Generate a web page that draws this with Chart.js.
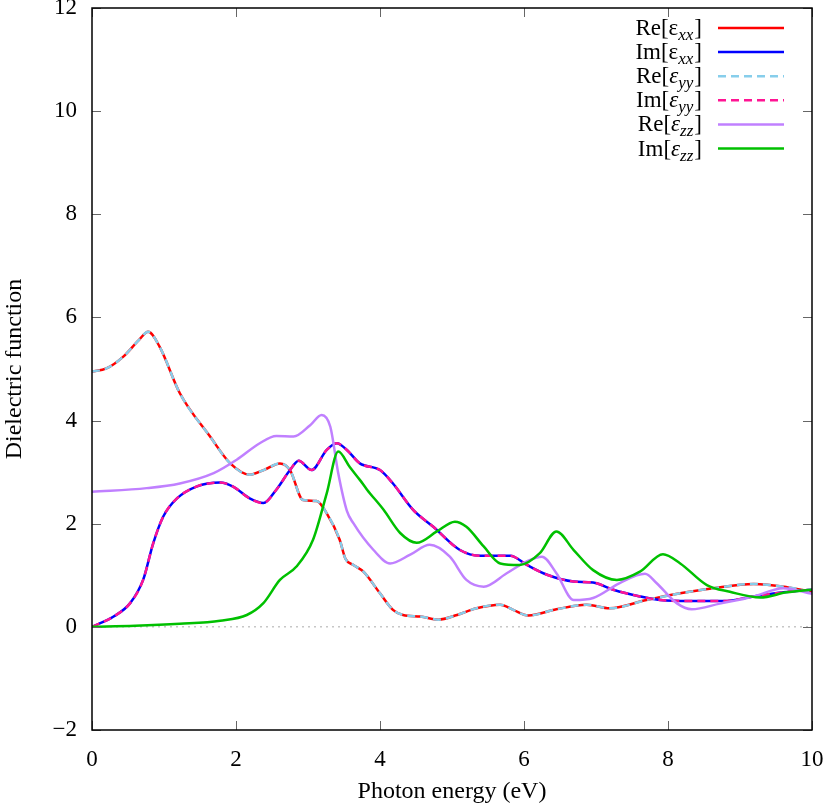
<!DOCTYPE html>
<html>
<head>
<meta charset="utf-8">
<script src="https://cdn.jsdelivr.net/npm/chart.js@4/dist/chart.umd.min.js"></script>
<style>
  body { margin: 0; background: #fff; }
  #wrap { width: 830px; height: 806px; }
</style>
</head>
<body>
<div id="wrap"><canvas id="dielChart" width="830" height="806"></canvas></div>
<script>
// Photon energy (eV) sample points and dielectric function values
const reXX_E = [0, 0.2, 0.435, 0.65, 0.78, 0.94, 1.22, 1.64, 1.92, 2.19, 2.4, 2.61, 2.75, 2.93, 3.12, 3.26, 3.44, 3.52, 3.63, 3.77, 4.0, 4.18, 4.32, 4.56, 4.81, 5.07, 5.34, 5.67, 5.85, 6.06, 6.45, 6.87, 7.19, 7.7, 8.17, 8.63, 9.19, 9.65, 10];
const reXX_V = [4.95, 5.01, 5.24, 5.56, 5.72, 5.43, 4.53, 3.69, 3.17, 2.95, 3.05, 3.17, 3.04, 2.46, 2.44, 2.2, 1.69, 1.32, 1.2, 1.07, 0.65, 0.33, 0.23, 0.2, 0.14, 0.23, 0.36, 0.43, 0.33, 0.22, 0.34, 0.43, 0.36, 0.52, 0.65, 0.75, 0.83, 0.77, 0.68];

const imXX_E = [0, 0.3, 0.53, 0.71, 0.85, 0.99, 1.18, 1.45, 1.78, 1.96, 2.19, 2.38, 2.56, 2.75, 2.87, 3.05, 3.26, 3.4, 3.54, 3.72, 4.0, 4.18, 4.46, 4.74, 5.11, 5.39, 5.81, 6.04, 6.32, 6.69, 6.96, 7.24, 7.61, 7.89, 8.31, 8.77, 9.19, 9.6, 10];
const imXX_V = [0, 0.2, 0.46, 0.91, 1.62, 2.14, 2.49, 2.72, 2.8, 2.72, 2.49, 2.4, 2.66, 3.04, 3.22, 3.04, 3.43, 3.56, 3.43, 3.17, 3.04, 2.78, 2.27, 1.94, 1.49, 1.38, 1.38, 1.2, 1.01, 0.88, 0.86, 0.72, 0.59, 0.52, 0.5, 0.5, 0.59, 0.67, 0.72];

// yy components overlap the xx ones exactly
const reYY_E = reXX_E, reYY_V = reXX_V;
const imYY_E = imXX_E, imYY_V = imXX_V;

const reZZ_E = [0, 0.76, 1.22, 1.69, 2.01, 2.33, 2.56, 2.8, 3.03, 3.19, 3.31, 3.42, 3.54, 3.63, 3.91, 4.14, 4.42, 4.69, 4.97, 5.2, 5.44, 5.76, 6.04, 6.25, 6.45, 6.69, 6.96, 7.33, 7.68, 7.84, 8.12, 8.33, 8.72, 9.19, 9.6, 10];
const reZZ_V = [2.62, 2.69, 2.78, 2.98, 3.24, 3.56, 3.7, 3.69, 3.91, 4.11, 3.88, 2.98, 2.25, 2.01, 1.49, 1.23, 1.4, 1.59, 1.36, 0.91, 0.78, 1.04, 1.27, 1.36, 1.04, 0.52, 0.56, 0.85, 1.03, 0.85, 0.46, 0.34, 0.45, 0.59, 0.75, 0.64];

const imZZ_E = [0, 0.6, 1.22, 1.78, 2.15, 2.38, 2.61, 2.84, 3.07, 3.26, 3.42, 3.58, 3.72, 3.82, 4.05, 4.28, 4.51, 4.79, 5.04, 5.2, 5.44, 5.67, 5.94, 6.22, 6.45, 6.69, 6.96, 7.29, 7.61, 7.93, 8.17, 8.54, 8.86, 9.28, 9.65, 10];
const imZZ_V = [0, 0.02, 0.06, 0.12, 0.23, 0.46, 0.91, 1.17, 1.69, 2.59, 3.4, 3.1, 2.85, 2.66, 2.27, 1.82, 1.63, 1.85, 2.04, 1.94, 1.56, 1.23, 1.2, 1.43, 1.85, 1.49, 1.1, 0.91, 1.07, 1.41, 1.23, 0.81, 0.68, 0.57, 0.67, 0.72];

const xTicks = [0, 2, 4, 6, 8, 10];
const yTicks = [-2, 0, 2, 4, 6, 8, 10, 12];

const FONT = '"Liberation Serif", "DejaVu Serif", serif';

function pts(xs, ys) {
    return xs.map((x, i) => ({ x: x, y: ys[i] }));
}

// legend entries: prefix, epsilon italic?, subscript, colour, dash
const legendItems = [
    { pre: 'Re[', epsItalic: false, sub: 'xx', color: '#ff0000', dash: [] },
    { pre: 'Im[', epsItalic: false, sub: 'xx', color: '#0000ff', dash: [] },
    { pre: 'Re[', epsItalic: true, sub: 'yy', color: '#87ceeb', dash: [8, 5] },
    { pre: 'Im[', epsItalic: true, sub: 'yy', color: '#ff1493', dash: [8, 5] },
    { pre: 'Re[', epsItalic: true, sub: 'zz', color: '#c080ff', dash: [] },
    { pre: 'Im[', epsItalic: true, sub: 'zz', color: '#00c000', dash: [] }
];

function makeSet(label, xs, ys, item, order) {
    return {
        label: label,
        data: pts(xs, ys),
        borderColor: item.color,
        borderWidth: 2.5,
        borderDash: item.dash,
        pointRadius: 0,
        fill: false,
        cubicInterpolationMode: 'monotone',
        order: order
    };
}

// axes frame, inward ticks and the dotted zero line
const framePlugin = {
    id: 'frame',
    beforeDatasetsDraw(chart) {
        const ctx = chart.ctx, a = chart.chartArea, ys = chart.scales.y;
        const y0 = ys.getPixelForValue(0);
        ctx.save();
        ctx.strokeStyle = '#aaaaaa';
        ctx.lineWidth = 1;
        ctx.setLineDash([2, 4]);
        ctx.beginPath();
        ctx.moveTo(a.left, y0);
        ctx.lineTo(a.right, y0);
        ctx.stroke();
        ctx.restore();
    },
    afterDatasetsDraw(chart) {
        const ctx = chart.ctx, a = chart.chartArea;
        const xs = chart.scales.x, ys = chart.scales.y;
        ctx.save();
        ctx.strokeStyle = '#666666';
        ctx.lineWidth = 1;
        ctx.beginPath();
        xTicks.forEach(v => {
            const px = Math.round(xs.getPixelForValue(v)) + 0.5;
            ctx.moveTo(px, a.bottom); ctx.lineTo(px, a.bottom - 9);
            ctx.moveTo(px, a.top); ctx.lineTo(px, a.top + 9);
        });
        yTicks.forEach(v => {
            const py = Math.round(ys.getPixelForValue(v)) + 0.5;
            ctx.moveTo(a.left, py); ctx.lineTo(a.left + 9, py);
            ctx.moveTo(a.right, py); ctx.lineTo(a.right - 9, py);
        });
        ctx.stroke();
        ctx.strokeStyle = '#000000';
        ctx.lineWidth = 1.5;
        ctx.strokeRect(a.left, a.top, a.right - a.left, a.bottom - a.top);
        ctx.restore();
    },
    afterDraw(chart) {
        const ctx = chart.ctx;
        const textRight = 702, lineL = 718, lineR = 784;
        ctx.save();
        ctx.textBaseline = 'alphabetic';
        legendItems.forEach((it, i) => {
            const yMid = 28 + i * 24.1;
            const base = yMid + 7;
            const fMain = '23px ' + FONT;
            const fEps = (it.epsItalic ? 'italic ' : '') + '23px ' + FONT;
            const fSub = 'italic 17px ' + FONT;
            ctx.font = fMain; const w1 = ctx.measureText(it.pre).width;
            ctx.font = fEps; const w2 = ctx.measureText('ε').width;
            ctx.font = fSub; const w3 = ctx.measureText(it.sub).width;
            ctx.font = fMain; const w4 = ctx.measureText(']').width;
            let x = textRight - (w1 + w2 + w3 + w4 + 1);
            ctx.fillStyle = '#000';
            ctx.font = fMain; ctx.fillText(it.pre, x, base); x += w1;
            ctx.font = fEps; ctx.fillText('ε', x, base); x += w2;
            ctx.font = fSub; ctx.fillText(it.sub, x, base + 5); x += w3 + 1;
            ctx.font = fMain; ctx.fillText(']', x, base);
            ctx.strokeStyle = it.color;
            ctx.lineWidth = 2.5;
            ctx.setLineDash(it.dash);
            ctx.beginPath();
            ctx.moveTo(lineL, yMid);
            ctx.lineTo(lineR, yMid);
            ctx.stroke();
            ctx.setLineDash([]);
        });
        ctx.restore();
    }
};

function fmt(v) {
    return v < 0 ? '\u2212' + Math.abs(v) : String(v);
}

const ctx = document.getElementById('dielChart').getContext('2d');
new Chart(ctx, {
    type: 'line',
    data: {
        datasets: [
            makeSet('Re[εxx]', reXX_E, reXX_V, legendItems[0], 6),
            makeSet('Im[εxx]', imXX_E, imXX_V, legendItems[1], 5),
            makeSet('Re[εyy]', reYY_E, reYY_V, legendItems[2], 4),
            makeSet('Im[εyy]', imYY_E, imYY_V, legendItems[3], 3),
            makeSet('Re[εzz]', reZZ_E, reZZ_V, legendItems[4], 2),
            makeSet('Im[εzz]', imZZ_E, imZZ_V, legendItems[5], 1)
        ]
    },
    options: {
        responsive: false,
        animation: false,
        layout: { padding: { top: 8, right: 18, left: 0, bottom: 0 } },
        plugins: {
            legend: { display: false },
            tooltip: { enabled: false }
        },
        scales: {
            x: {
                type: 'linear',
                min: 0,
                max: 10,
                afterFit: s => { s.height = 76; s.paddingLeft = 0; s.paddingRight = 0; },
                afterBuildTicks: s => { s.ticks = xTicks.map(v => ({ value: v })); },
                grid: { display: false, drawTicks: false },
                border: { display: false },
                ticks: { color: '#000', font: { family: FONT, size: 23 }, padding: 16, maxRotation: 0, callback: fmt },
                title: { display: true, text: 'Photon energy (eV)', color: '#000', font: { family: FONT, size: 24 }, padding: { top: 0, bottom: 0 } }
            },
            y: {
                type: 'linear',
                min: -2,
                max: 12,
                afterFit: s => { s.width = 92; s.paddingTop = 0; s.paddingBottom = 0; },
                afterBuildTicks: s => { s.ticks = yTicks.map(v => ({ value: v })); },
                grid: { display: false, drawTicks: false },
                border: { display: false },
                ticks: { color: '#000', font: { family: FONT, size: 23 }, padding: 15, callback: fmt },
                title: { display: true, text: 'Dielectric function', color: '#000', font: { family: FONT, size: 24 }, padding: 0 }
            }
        }
    },
    plugins: [framePlugin]
});
</script>
</body>
</html>
